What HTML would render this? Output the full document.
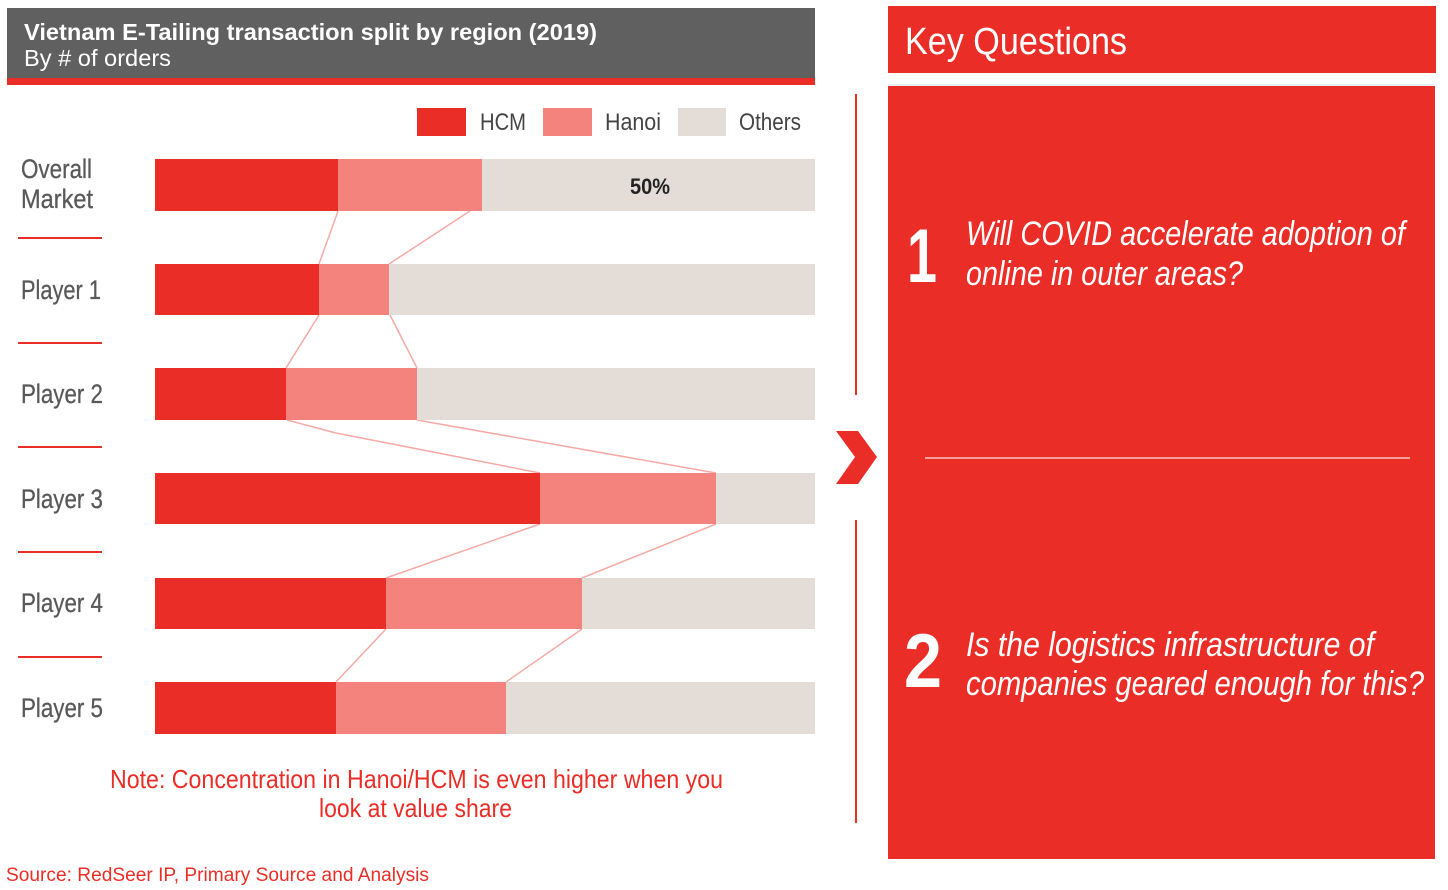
<!DOCTYPE html>
<html><head><meta charset="utf-8"><style>
html,body{margin:0;padding:0;background:#fff;}
svg{display:block;}
text{font-family:"Liberation Sans",sans-serif;}
</style></head><body>
<svg width="1448" height="890" viewBox="0 0 1448 890" xmlns="http://www.w3.org/2000/svg">
<rect x="0" y="0" width="1448" height="890" fill="#fff"/>
<!-- header -->
<rect x="7" y="8" width="808" height="70" fill="#606060"/>
<rect x="7" y="78" width="808" height="7" fill="#ea2e27"/>
<text x="24" y="40" font-size="23" font-weight="bold" fill="#fff" textLength="573" lengthAdjust="spacingAndGlyphs">Vietnam E-Tailing transaction split by region (2019)</text>
<text x="24" y="66" font-size="23" fill="#fff" textLength="147" lengthAdjust="spacingAndGlyphs">By # of orders</text>
<!-- legend -->
<rect x="417" y="108" width="49" height="28" fill="#ea2e27"/>
<text x="480" y="130" font-size="24" fill="#444" textLength="46" lengthAdjust="spacingAndGlyphs">HCM</text>
<rect x="543" y="108" width="49" height="28" fill="#f3837c"/>
<text x="605" y="130" font-size="24" fill="#444" textLength="56" lengthAdjust="spacingAndGlyphs">Hanoi</text>
<rect x="678" y="108" width="48" height="28" fill="#e4dcd7"/>
<text x="739" y="130" font-size="24" fill="#444" textLength="62" lengthAdjust="spacingAndGlyphs">Others</text>
<!-- connectors -->
<g stroke="#f6aaa5" stroke-width="1.5" fill="none">
<line x1="338" y1="211" x2="319" y2="264"/>
<line x1="470" y1="211" x2="389" y2="264"/>
<line x1="319" y1="315" x2="286" y2="368"/>
<line x1="390" y1="315" x2="417" y2="368"/>
<polyline points="287,420 336,433 540,473"/>
<line x1="417" y1="420" x2="716" y2="473"/>
<line x1="540" y1="524" x2="386" y2="578"/>
<line x1="716" y1="524" x2="582" y2="578"/>
<line x1="386" y1="629" x2="336" y2="682"/>
<line x1="582" y1="629" x2="506" y2="682"/>
</g>
<!-- bars -->
<g>
<rect x="155" y="159" width="183" height="52" fill="#ea2e27"/>
<rect x="338" y="159" width="144" height="52" fill="#f3837c"/>
<rect x="482" y="159" width="333" height="52" fill="#e4dcd7"/>

<rect x="155" y="264" width="164" height="51" fill="#ea2e27"/>
<rect x="319" y="264" width="70" height="51" fill="#f3837c"/>
<rect x="389" y="264" width="426" height="51" fill="#e4dcd7"/>

<rect x="155" y="368" width="131" height="52" fill="#ea2e27"/>
<rect x="286" y="368" width="131" height="52" fill="#f3837c"/>
<rect x="417" y="368" width="398" height="52" fill="#e4dcd7"/>

<rect x="155" y="473" width="385" height="51" fill="#ea2e27"/>
<rect x="540" y="473" width="176" height="51" fill="#f3837c"/>
<rect x="716" y="473" width="99" height="51" fill="#e4dcd7"/>

<rect x="155" y="578" width="231" height="51" fill="#ea2e27"/>
<rect x="386" y="578" width="196" height="51" fill="#f3837c"/>
<rect x="582" y="578" width="233" height="51" fill="#e4dcd7"/>

<rect x="155" y="682" width="181" height="52" fill="#ea2e27"/>
<rect x="336" y="682" width="170" height="52" fill="#f3837c"/>
<rect x="506" y="682" width="309" height="52" fill="#e4dcd7"/>
</g>
<text x="630" y="194" font-size="22" font-weight="bold" fill="#222" textLength="40" lengthAdjust="spacingAndGlyphs">50%</text>
<!-- row labels -->
<g font-size="27" fill="#595959" stroke="#595959" stroke-width="0.3">
<text x="21" y="178" textLength="71" lengthAdjust="spacingAndGlyphs">Overall</text>
<text x="21" y="208" textLength="72" lengthAdjust="spacingAndGlyphs">Market</text>
<text x="21" y="299" textLength="80" lengthAdjust="spacingAndGlyphs">Player 1</text>
<text x="21" y="403" textLength="82" lengthAdjust="spacingAndGlyphs">Player 2</text>
<text x="21" y="508" textLength="82" lengthAdjust="spacingAndGlyphs">Player 3</text>
<text x="21" y="612" textLength="82" lengthAdjust="spacingAndGlyphs">Player 4</text>
<text x="21" y="717" textLength="82" lengthAdjust="spacingAndGlyphs">Player 5</text>
</g>
<g stroke="#ea2e27" stroke-width="2">
<line x1="18" y1="238" x2="102" y2="238"/>
<line x1="18" y1="343" x2="102" y2="343"/>
<line x1="18" y1="447" x2="102" y2="447"/>
<line x1="18" y1="552" x2="102" y2="552"/>
<line x1="18" y1="657" x2="102" y2="657"/>
</g>
<!-- note & source -->
<text x="110" y="788" font-size="26" fill="#ea2e27" textLength="613" lengthAdjust="spacingAndGlyphs">Note: Concentration in Hanoi/HCM is even higher when you</text>
<text x="319" y="817" font-size="26" fill="#ea2e27" textLength="193" lengthAdjust="spacingAndGlyphs">look at value share</text>
<text x="6" y="881" font-size="19" fill="#ea2e27" textLength="423" lengthAdjust="spacingAndGlyphs">Source: RedSeer IP, Primary Source and Analysis</text>
<!-- divider and chevron -->
<rect x="855" y="94" width="2" height="301" fill="#ea2e27"/>
<rect x="855" y="520" width="2" height="303" fill="#ea2e27"/>
<polygon points="836,431 858,431 877,457 858,484 836,484 855,457" fill="#ea2e27"/>
<!-- right panel -->
<rect x="888" y="6" width="548" height="67" fill="#ea2e27"/>
<text x="905" y="54" font-size="38" fill="#fff" textLength="222" lengthAdjust="spacingAndGlyphs">Key Questions</text>
<line x1="888" y1="85" x2="1435" y2="85" stroke="#cfe2e2" stroke-width="1"/>
<rect x="888" y="86" width="547" height="773" fill="#ea2e27"/>
<line x1="925" y1="458" x2="1410" y2="458" stroke="#f6c4c1" stroke-width="1.5"/>
<text x="907" y="282" font-size="76" font-weight="bold" fill="#fff" textLength="30" lengthAdjust="spacingAndGlyphs">1</text>
<text x="966" y="245" font-size="34" font-style="italic" fill="#fff" textLength="439" lengthAdjust="spacingAndGlyphs">Will COVID accelerate adoption of</text>
<text x="966" y="285" font-size="34" font-style="italic" fill="#fff" textLength="277" lengthAdjust="spacingAndGlyphs">online in outer areas?</text>
<text x="904" y="687" font-size="76" font-weight="bold" fill="#fff" textLength="38" lengthAdjust="spacingAndGlyphs">2</text>
<text x="966" y="656" font-size="34" font-style="italic" fill="#fff" textLength="408" lengthAdjust="spacingAndGlyphs">Is the logistics infrastructure of</text>
<text x="966" y="695" font-size="34" font-style="italic" fill="#fff" textLength="458" lengthAdjust="spacingAndGlyphs">companies geared enough for this?</text>
</svg>
</body></html>
